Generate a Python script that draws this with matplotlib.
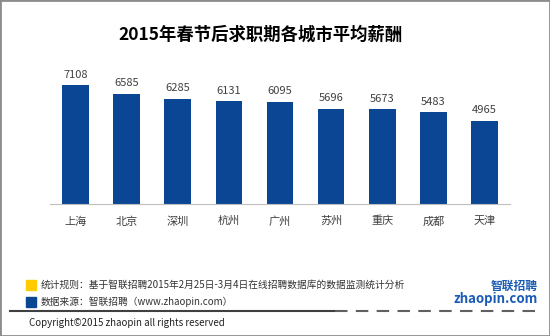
import matplotlib.pyplot as plt
from matplotlib.patches import Rectangle
from matplotlib.lines import Line2D

plt.rcParams['font.family'] = ['Noto Sans CJK SC', 'DejaVu Sans']

cities = ['上海', '北京', '深圳', '杭州', '广州', '苏州', '重庆', '成都', '天津']
salary = [7108, 6585, 6285, 6131, 6095, 5696, 5673, 5483, 4965]

title = '2015年春节后求职期各城市平均薪酬'
note1 = '统计规则：基于智联招聘2015年2月25日-3月4日在线招聘数据库的数据监测统计分析'
note2 = '数据来源：智联招聘（www.zhaopin.com）'
copyright_txt = 'Copyright©2015 zhaopin all rights reserved'

W, H = 550, 336
fig = plt.figure(figsize=(W / 100, H / 100), dpi=100)
fig.patch.set_facecolor('white')


def px(x, y):
    # pixel coords (top-left origin) -> figure fraction
    return x / W, 1 - y / H


bar_color = '#0b4694'
ax = fig.add_axes([50 / W, 1 - 203.7 / H, 460 / W, 133.7 / H])
ax.bar(range(len(cities)), salary, width=0.52, color=bar_color)
ax.set_xlim(-0.5, len(cities) - 0.5)
ax.set_ylim(0, 8000)
for s in ['top', 'right', 'left']:
    ax.spines[s].set_visible(False)
ax.spines['bottom'].set_color('#bfbfbf')
ax.set_yticks([])
ax.set_xticks(range(len(cities)))
ax.set_xticklabels(cities, fontsize=8, color='#404040')
ax.tick_params(axis='x', length=0, pad=9)
for i, v in enumerate(salary):
    ax.text(i, v + 320, str(v), ha='center', va='bottom', fontsize=8, color='#404040')

fig.text(*px(261, 35), title, ha='center', va='center', fontsize=12.5,
         fontweight='bold', color='black')

# footer notes
fig.add_artist(Rectangle(px(26, 290), 10 / W, 10 / H, transform=fig.transFigure,
                         color='#ffcc00'))
fig.add_artist(Rectangle(px(26, 307), 10 / W, 10 / H, transform=fig.transFigure,
                         color=bar_color))
fig.text(*px(41, 285), note1, ha='left', va='center', fontsize=7, color='#333333')
fig.text(*px(41, 302), note2, ha='left', va='center', fontsize=7, color='#333333')

fig.add_artist(Line2D([10 / W, 335 / W], [1 - 311 / H] * 2, transform=fig.transFigure,
                      color='#404040', lw=1.5))
fig.add_artist(Line2D([335 / W, 540 / W], [1 - 311 / H] * 2, transform=fig.transFigure,
                      color='#606060', lw=1.5, ls=(0, (6, 4))))
fig.text(*px(29, 323), copyright_txt, ha='left', va='center', fontsize=7, color='#222222')

# logo
fig.text(*px(538, 286), '智联招聘', ha='right', va='center', fontsize=8.5,
         fontweight='bold', style='italic', color='#1a5bb5')
fig.text(*px(538, 299), 'zhaopin.com', ha='right', va='center', fontsize=9.5,
         fontweight='bold', color='#1a5bb5')

# outer border
fig.add_artist(Rectangle((0, 0), 1, 1, transform=fig.transFigure, fill=False,
                         edgecolor='#8c8c8c', lw=2))

fig.savefig('out.png', dpi=100)
